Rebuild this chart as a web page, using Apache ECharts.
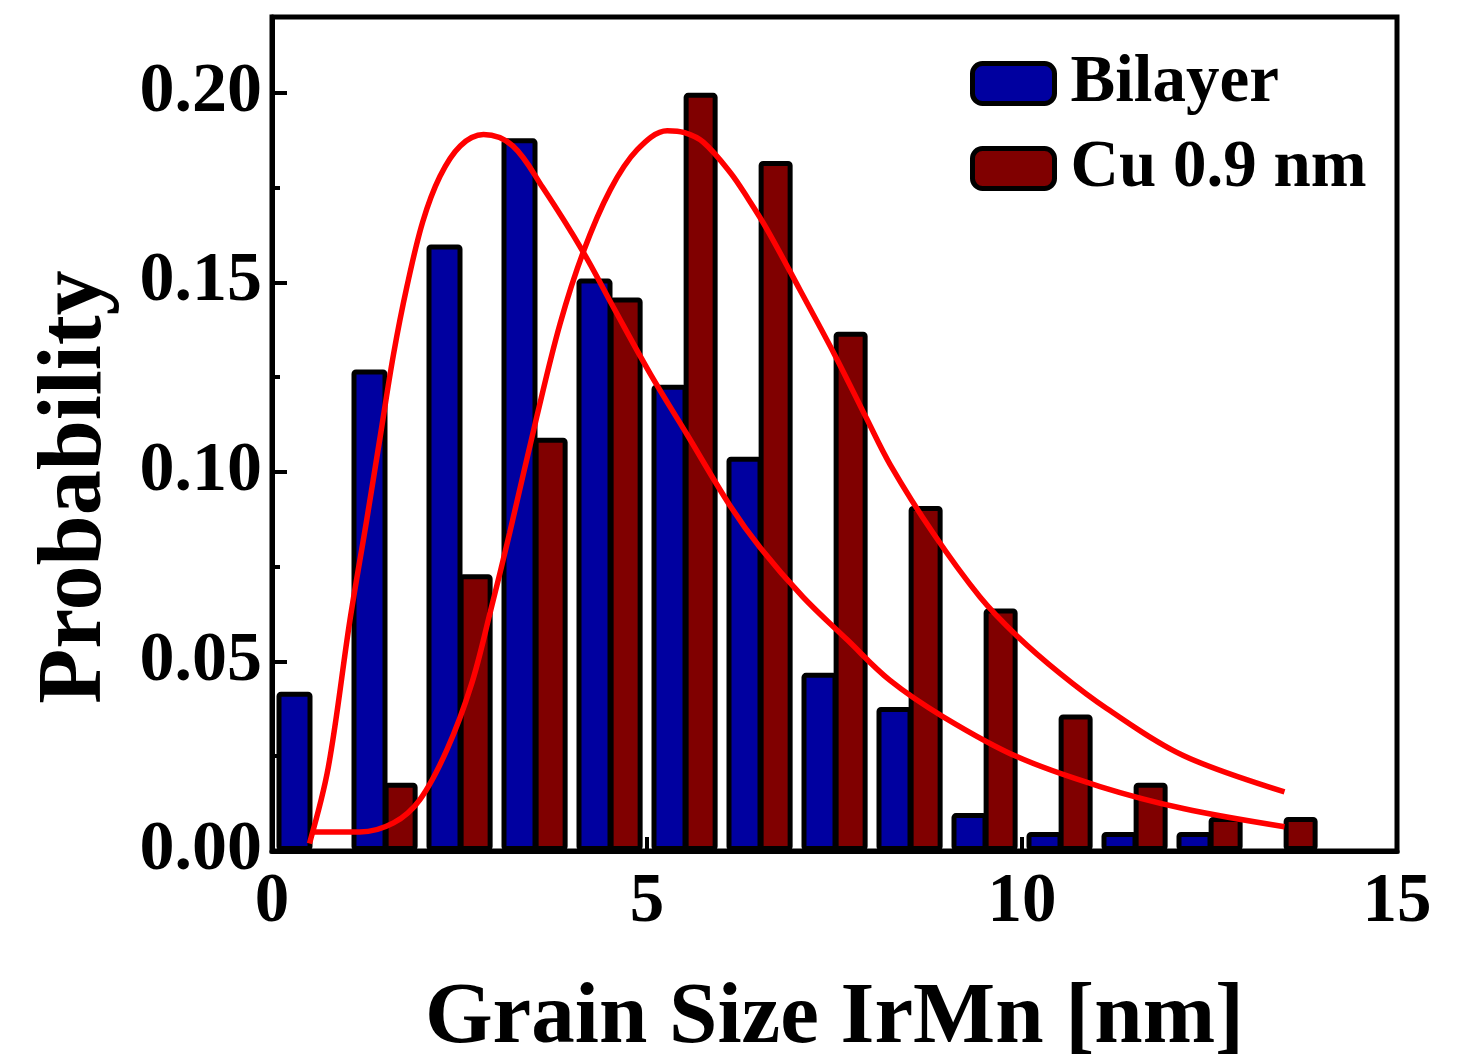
<!DOCTYPE html>
<html>
<head>
<meta charset="utf-8">
<script src="https://cdn.jsdelivr.net/npm/echarts@6/dist/echarts.min.js"></script>
<style>
html, body { margin: 0; padding: 0; background: #fff; }
#chart { width: 1468px; height: 1064px; }
</style>
</head>
<body>
<div id="chart"></div>
<script>
// histogram bins (left edge of each 1 nm bin)
var binStart = [0, 1, 2, 3, 4, 5, 6, 7, 8, 9, 10, 11, 12, 13];
var bilayer = [0.042, 0.127, 0.160, 0.188, 0.151, 0.123, 0.104, 0.047, 0.038, 0.010, 0.005, 0.005, 0.005, null];
var cu09 = [null, 0.018, 0.073, 0.109, 0.146, 0.200, 0.182, 0.137, 0.091, 0.064, 0.036, 0.018, 0.009, 0.009];

// fitted curves  [x, y]
var fitBilayer = [
    [0.5, 0.002], [0.75, 0.022], [1.04, 0.061], [1.26, 0.087], [1.44, 0.109], [1.62, 0.131],
    [1.80, 0.149], [2.01, 0.166], [2.24, 0.178], [2.51, 0.186], [2.82, 0.189], [3.21, 0.186],
    [3.61, 0.175], [4.15, 0.158], [4.55, 0.1435], [5.04, 0.126], [5.53, 0.110], [6.11, 0.091],
    [6.51, 0.080], [7.08, 0.067], [7.67, 0.0557], [8.24, 0.045], [8.95, 0.0354], [9.93, 0.0249],
    [11.04, 0.017], [12.15, 0.0112], [13.5, 0.0064]
];
var fitCu = [
    [0.52, 0.005], [1.17, 0.005], [1.62, 0.0074], [1.97, 0.0135], [2.33, 0.0266], [2.66, 0.044],
    [2.91, 0.063], [3.17, 0.084], [3.53, 0.1145], [3.84, 0.139], [4.15, 0.158], [4.51, 0.1744],
    [4.87, 0.185], [5.27, 0.190], [5.5, 0.1895], [5.75, 0.187], [6.11, 0.179], [6.35, 0.172],
    [6.6, 0.164], [7.04, 0.148], [7.5, 0.131], [7.93, 0.114], [8.24, 0.102], [8.81, 0.084],
    [9.44, 0.067], [9.93, 0.0568], [10.51, 0.0468], [11.13, 0.0376], [12.15, 0.0252],
    [13.5, 0.0156]
];

var yMajor = [0, 0.05, 0.10, 0.15, 0.20];
var yMinor = [0.025, 0.075, 0.125, 0.175];

var font = '"Liberation Serif", "Times New Roman", serif';

function pairs(vals, off) {
    var out = [];
    for (var i = 0; i < binStart.length; i++) {
        if (vals[i] != null) out.push([binStart[i] + off, vals[i]]);
    }
    return out;
}

var chart = echarts.init(document.getElementById('chart'));
var option = {
    backgroundColor: '#fff',
    animation: false,
    grid: {
        left: 272, right: 71, top: 17, bottom: 213,
        outerBoundsMode: 'none', containLabel: false,
        show: true, borderColor: '#000', borderWidth: 5
    },
    legend: {
        orient: 'vertical',
        left: 965, top: 45,
        itemWidth: 82, itemHeight: 40, itemGap: 18,
        icon: 'roundRect',
        data: ['Bilayer', 'Cu 0.9 nm'],
        itemStyle: { borderColor: '#000', borderWidth: 5 },
        textStyle: {
            fontFamily: font, fontWeight: 'bold', fontSize: 67, lineHeight: 67,
            color: '#000', padding: [0, 0, 0, 11]
        }
    },
    xAxis: [{
        type: 'value', min: 0, max: 15, interval: 5,
        name: 'Grain Size IrMn [nm]', nameLocation: 'middle', nameGap: 125,
        nameTextStyle: { fontFamily: font, fontWeight: 'bold', fontSize: 87, color: '#000' },
        axisLine: { lineStyle: { color: '#000', width: 5 } },
        axisTick: { inside: true, length: 14, lineStyle: { color: '#000', width: 4 } },
        axisLabel: { margin: 18, fontFamily: font, fontWeight: 'bold', fontSize: 69, color: '#000' },
        splitLine: { show: false }
    }, {
        type: 'value', min: 0, max: 15, show: false
    }],
    yAxis: [{
        type: 'value', min: 0, max: 0.22,
        name: 'Probability', nameLocation: 'middle', nameGap: 150, nameRotate: 90,
        nameTextStyle: {
            fontFamily: font, fontWeight: 'bold', fontSize: 90, color: '#000',
            padding: [0, 106, 0, 0]
        },
        axisLine: { show: true, lineStyle: { color: '#000', width: 5 } },
        axisTick: { inside: true, length: 15, customValues: yMajor, lineStyle: { color: '#000', width: 4 } },
        axisLabel: {
            margin: 10, customValues: yMajor,
            fontFamily: font, fontWeight: 'bold', fontSize: 70, color: '#000',
            formatter: function (v) { return v.toFixed(2); }
        },
        splitLine: { show: false }
    }, {
        type: 'value', min: 0, max: 0.22, position: 'left',
        axisLine: { show: false },
        axisTick: { show: true, inside: true, length: 8, customValues: yMinor, lineStyle: { color: '#000', width: 4 } },
        axisLabel: { show: false },
        splitLine: { show: false }
    }],
    series: [{
        name: 'Bilayer', type: 'bar', xAxisIndex: 0, yAxisIndex: 0,
        barWidth: 36, z: 2,
        itemStyle: { color: '#0000A0', borderColor: '#000', borderWidth: 5, borderRadius: 2 },
        data: pairs(bilayer, 0.30)
    }, {
        name: 'Cu 0.9 nm', type: 'bar', xAxisIndex: 1, yAxisIndex: 0,
        barWidth: 34, z: 3,
        itemStyle: { color: '#800000', borderColor: '#000', borderWidth: 5, borderRadius: 2 },
        data: pairs(cu09, 0.715)
    }, {
        name: 'fit1', type: 'line', xAxisIndex: 0, yAxisIndex: 0,
        smooth: 0.35, showSymbol: false, z: 5,
        lineStyle: { color: '#FF0000', width: 5.5 },
        data: fitBilayer
    }, {
        name: 'fit2', type: 'line', xAxisIndex: 0, yAxisIndex: 0,
        smooth: 0.35, showSymbol: false, z: 5,
        lineStyle: { color: '#FF0000', width: 5.5 },
        data: fitCu
    }]
};
chart.setOption(option);
</script>
</body>
</html>
